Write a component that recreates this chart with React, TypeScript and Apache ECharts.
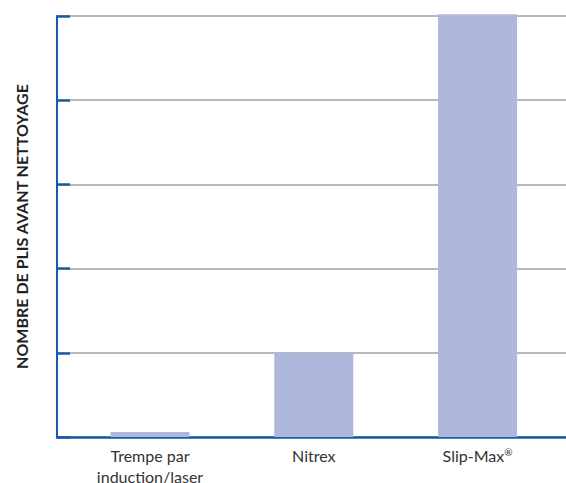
import React, { useEffect, useRef } from "react";
import * as echarts from "echarts";

const categories = ["Trempe par\ninduction/laser", "Nitrex", "Slip-Max®"];
const values = [0.06, 1, 5.02];
const yTicks = [0, 1, 2, 3, 4, 5];
const yTitle = "NOMBRE DE PLIS AVANT NETTOYAGE";

const AXIS_BLUE = "#1a5aa8";
const BAR_COLOR = "#aeb8dc";

export default function App() {
  const ref = useRef<HTMLDivElement>(null);
  useEffect(() => {
    document.body.style.margin = "0";
    if (!ref.current) return;
    const chart = echarts.init(ref.current, undefined, { renderer: "svg" });
    const positions = categories.map((_, i) => i);
    chart.setOption({
      animation: false,
      backgroundColor: "#ffffff",
      grid: { left: 57, right: 0, top: 16, bottom: 46, outerBoundsMode: "none", containLabel: false },
      xAxis: {
        type: "value",
        min: -0.568,
        max: 2.54,
        axisLine: { show: true, onZero: false, lineStyle: { color: AXIS_BLUE, width: 2.5 } },
        axisTick: { show: false },
        splitLine: { show: false },
        axisLabel: {
          customValues: positions,
          formatter: (v: number) => (categories[Math.round(v)] ?? "").replace("®", "{sup|®}"),
          color: "#333333",
          fontFamily: "Lato",
          fontSize: 16,
          lineHeight: 21,
          margin: 8,
          rich: {
            sup: { fontFamily: "Lato", fontSize: 10, color: "#333333", padding: [0, 0, 8, 0] },
          },
        },
      },
      yAxis: {
        type: "value",
        min: yTicks[0],
        max: yTicks[yTicks.length - 1],
        interval: 1,
        name: yTitle,
        nameLocation: "middle",
        nameGap: 28,
        nameTextStyle: {
          color: "#222222",
          fontFamily: "Lato",
          fontWeight: "bold",
          fontSize: 16,
        },
        axisLine: { show: true, onZero: false, lineStyle: { color: AXIS_BLUE, width: 2 } },
        axisTick: {
          show: true,
          inside: true,
          length: 13,
          lineStyle: { color: AXIS_BLUE, width: 2.5 },
        },
        axisLabel: { show: false },
        splitLine: { show: true, lineStyle: { color: "#a0a0a0", width: 1.5 } },
      },
      series: [
        {
          type: "bar",
          barWidth: 79,
          clip: false,
          itemStyle: { color: BAR_COLOR },
          data: values.map((v, i) => [positions[i], v]),
          z: 1,
        },
      ],
    });
    return () => chart.dispose();
  }, []);
  return <div ref={ref} style={{ width: 566, height: 483 }} />;
}
